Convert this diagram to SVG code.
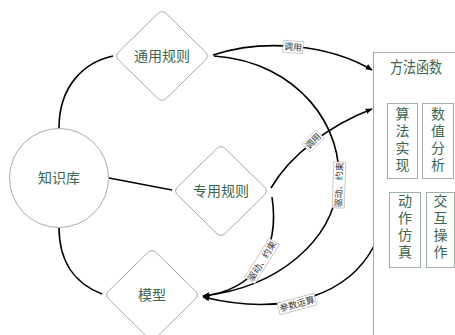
<svg xmlns="http://www.w3.org/2000/svg" width="455" height="335" viewBox="0 0 455 335">
<style>
.shape{fill:#fff;stroke:#9fb0a6;stroke-width:1}
.lbl{font-family:"Noto Sans CJK SC","Noto Sans",sans-serif;font-size:14px;fill:#3d6650;text-anchor:middle}
.vt{writing-mode:vertical-rl;letter-spacing:3px}
.conn{fill:none;stroke:#000;stroke-width:1.6}
.elbl rect{fill:#fff;stroke:#aaa;stroke-width:0.6}
.elbl text{font-family:"Noto Sans CJK SC","Noto Sans",sans-serif;font-size:9px;fill:#333;text-anchor:middle}
</style>
<defs>
<path id="dia" d="M4.3,-42.3 L43.2,-4.2 Q47.5,0 43.2,4.2 L4.3,42.3 Q0,46.5 -4.3,42.3 L-43.2,4.2 Q-47.5,0 -43.2,-4.2 L-4.3,-42.3 Q0,-46.5 4.3,-42.3 Z"/>
<marker id="arr" viewBox="0 0 10 10" refX="9" refY="5" markerWidth="7" markerHeight="7" orient="auto" markerUnits="userSpaceOnUse">
<path d="M0,1 L10,5 L0,9 Z" fill="#000"/>
</marker>
</defs>
<rect width="455" height="335" fill="#fff"/>

<g id="connectors">
<path class="conn" d="M59,128 C59,85 85,62 113,56"/>
<path class="conn" d="M109,178 L172,190"/>
<path class="conn" d="M59,227 C59,265 78,285 102,294"/>
<path class="conn" d="M213,55 C265,38 330,45 372,70" marker-end="url(#arr)"/>
<path class="conn" d="M214,56 C300,62 345,130 338,185 C332,240 280,287 203,296" marker-end="url(#arr)"/>
<path class="conn" d="M271,188 C290,155 330,125 372,109" marker-end="url(#arr)"/>
<path class="conn" d="M272,197 C280,250 256,290 203,296" marker-end="url(#arr)"/>
<path class="conn" d="M374,246 C350,292 290,318 203,297" marker-end="url(#arr)"/>
<g class="elbl" transform="translate(293,47) rotate(4)"><rect x="-10" y="-6" width="20" height="12"/><text y="3.2">调用</text></g>
<g class="elbl" transform="translate(313,141) rotate(-45)"><rect x="-10" y="-6" width="20" height="12"/><text y="3.2">调用</text></g>
<g class="elbl" transform="translate(339,185) rotate(-88)"><rect x="-23" y="-6" width="46" height="12"/><text y="3.2">驱动、约束</text></g>
<g class="elbl" transform="translate(262,261) rotate(-58)"><rect x="-23" y="-6" width="46" height="12"/><text y="3.2">驱动、约束</text></g>
<g class="elbl" transform="translate(297,304) rotate(-15)"><rect x="-19" y="-6" width="38" height="12"/><text y="3.2">参数运算</text></g>
</g>

<g id="n-zsk"><circle class="shape" cx="59" cy="178" r="49.5"/><text class="lbl" x="59" y="183">知识库</text></g>
<g id="n-tygz"><use href="#dia" class="shape" transform="translate(162,56)"/><text class="lbl" x="162" y="61">通用规则</text></g>
<g id="n-zygz"><use href="#dia" class="shape" transform="translate(221,191)"/><text class="lbl" x="221" y="196">专用规则</text></g>
<g id="n-mx"><use href="#dia" class="shape" transform="translate(152,295)"/><text class="lbl" x="152" y="300">模型</text></g>

<g id="n-ffhs">
<rect class="shape" x="373.5" y="52.5" width="100" height="300"/>
<text class="lbl" x="416" y="73" textLength="52" lengthAdjust="spacingAndGlyphs" style="font-size:16px">方法函数</text>
</g>
<g id="n-sfsx"><rect class="shape" x="387.5" y="103.5" width="30" height="75"/>
<text class="lbl vt" x="402.5" y="141">算法实现</text></g>
<g id="n-szfx"><rect class="shape" x="422.5" y="103.5" width="31" height="75"/>
<text class="lbl vt" x="438" y="141">数值分析</text></g>
<g id="n-dzfz"><rect class="shape" x="389.5" y="192.5" width="31" height="75"/>
<text class="lbl vt" x="405" y="228">动作仿真</text></g>
<g id="n-jhcz"><rect class="shape" x="426.5" y="192.5" width="28" height="75"/>
<text class="lbl vt" x="440.5" y="228">交互操作</text></g>
</svg>
